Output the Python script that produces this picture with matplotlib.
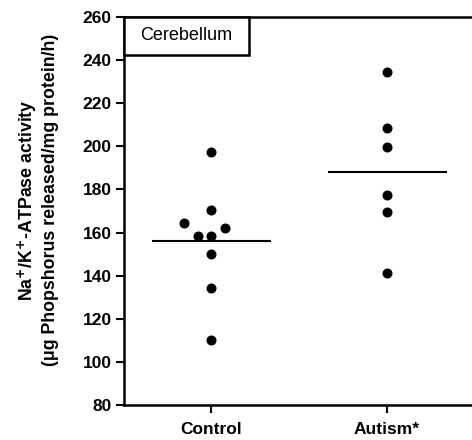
import matplotlib
matplotlib.use("Agg")
import matplotlib.pyplot as plt
from matplotlib.patches import Rectangle

plt.rcParams['font.family'] = ['Liberation Sans', 'DejaVu Sans']

categories = ["Control", "Autism*"]
control_values = [197.4, 170.3, 164.6, 162.3, 158.3, 158.3, 150.2, 134.4, 110.3]
control_offsets = [0.0, 0.0, -0.153, 0.081, -0.076, 0.0, 0.0, 0.0, 0.0]
autism_values = [234.3, 208.4, 199.6, 177.4, 169.4, 141.4]
autism_offsets = [0, 0, 0, 0, 0, 0]
means = [156.3, 188.1]
yticks = [80, 100, 120, 140, 160, 180, 200, 220, 240, 260]

fig = plt.figure(figsize=(4.72, 4.40), dpi=100)
ax = fig.add_axes([124/472, 1-405/440, 1-124/472, (405-17)/440])

groups = [control_values, autism_values]
offsets = [control_offsets, autism_offsets]
for i, (vals, offs) in enumerate(zip(groups, offsets)):
    xs = [i + 1 + o for o in offs]
    ax.plot(xs, vals, 'o', color='black', ms=6.2, zorder=3)
    ax.hlines(means[i], i + 1 - 0.335, i + 1 + 0.343, color='black', lw=1.5)

ax.set_xlim(0.506, 2.483)
ax.set_ylim(80, 260)
ax.set_yticks(yticks)
ax.set_xticks([1, 2])
ax.set_xticklabels(categories, fontsize=12.5, fontweight='bold')
for lab in ax.get_yticklabels():
    lab.set_fontsize(12.5)
    lab.set_fontweight('bold')
ax.tick_params(axis='both', direction='out', length=6, width=1.5, pad=3)
ax.tick_params(axis='x', pad=6)
for s in ['left', 'bottom', 'top']:
    ax.spines[s].set_linewidth(1.8)
ax.spines['right'].set_visible(False)

ax.set_ylabel("Na$^{\\mathbf{+}}$/K$^{\\mathbf{+}}$-ATPase activity\n(\u03bcg Phopshorus released/mg protein/h)",
              fontsize=12.8, fontweight='bold', linespacing=1.25)
ax.yaxis.set_label_coords(-0.187, 0.528)

# label box anchored at the top-left corner of the axes
w = 125 / 348
h = 38 / 388
ax.add_patch(Rectangle((0, 1 - h), w, h, transform=ax.transAxes,
                       fc='white', ec='black', lw=1.8, zorder=4, clip_on=False))
ax.text(w / 2, 1 - h / 2, "Cerebellum", transform=ax.transAxes, fontsize=13,
        va='center', ha='center', zorder=5)

fig.savefig("out.png", dpi=100)
